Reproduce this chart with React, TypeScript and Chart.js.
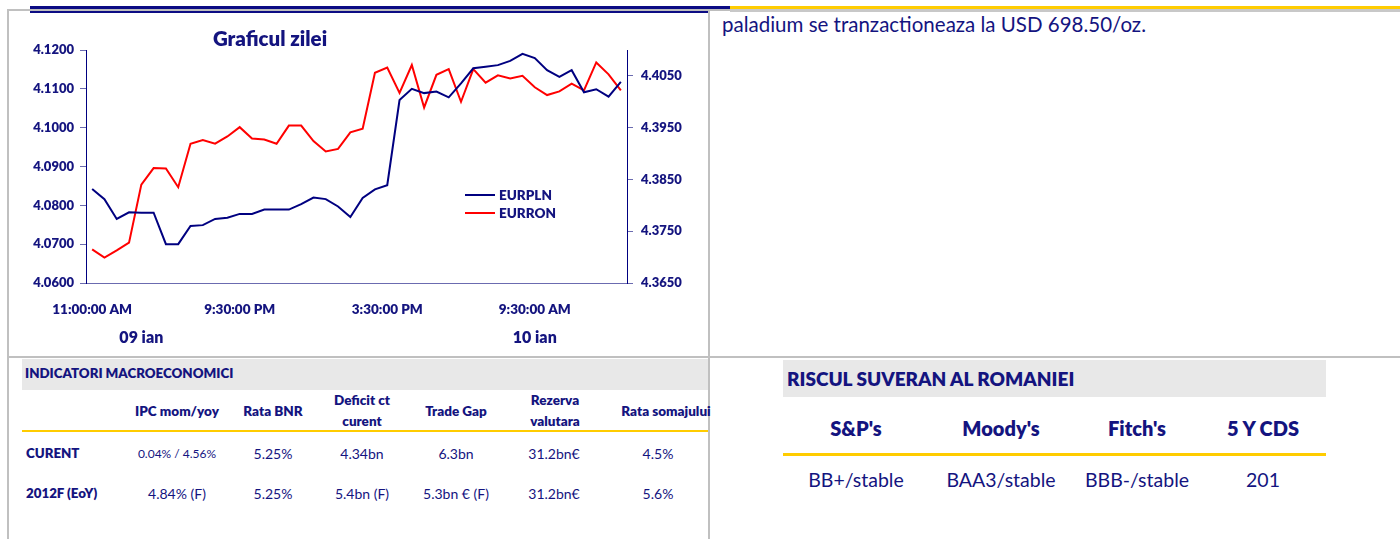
import React, { useEffect, useRef } from 'react';
import { Chart, registerables } from 'chart.js';

Chart.register(...registerables);

// ---- data ----
const EURPLN = [4.0842, 4.0816, 4.0765, 4.0782, 4.0781, 4.0781, 4.0700, 4.0700, 4.0747, 4.0749, 4.0765, 4.0768, 4.0778, 4.0778, 4.0789, 4.0789, 4.0789, 4.0803, 4.0820, 4.0816, 4.0797, 4.0770, 4.0819, 4.0841, 4.0852, 4.1071, 4.1100, 4.1089, 4.1093, 4.1078, 4.1114, 4.1153, 4.1157, 4.1161, 4.1172, 4.1190, 4.1179, 4.1148, 4.1131, 4.1148, 4.1091, 4.1099, 4.1080, 4.1118];
const EURRON = [4.3715, 4.3699, 4.3713, 4.3728, 4.3840, 4.3872, 4.3871, 4.3835, 4.3919, 4.3926, 4.3919, 4.3933, 4.3951, 4.3929, 4.3927, 4.3919, 4.3954, 4.3954, 4.3924, 4.3904, 4.3909, 4.3941, 4.3948, 4.4056, 4.4066, 4.4017, 4.4071, 4.3989, 4.4052, 4.4063, 4.4000, 4.4063, 4.4037, 4.4051, 4.4045, 4.4050, 4.4028, 4.4013, 4.4020, 4.4035, 4.4022, 4.4076, 4.4053, 4.4022];

const TIME_TICKS = ['11:00:00 AM', '9:30:00 PM', '3:30:00 PM', '9:30:00 AM'];
const TIME_TICK_INDEX = [0, 12, 24, 36];
const DAY_TICKS = ['09 ian', '10 ian'];
const DAY_TICK_INDEX = [4, 36];

const LEFT_TICKS = [4.06, 4.07, 4.08, 4.09, 4.10, 4.11, 4.12];
const RIGHT_TICKS = [4.365, 4.375, 4.385, 4.395, 4.405];
const LEFT_RANGE = [4.06, 4.12];
const RIGHT_RANGE = [4.365, 4.41];

const MACRO_HEADERS = [['IPC mom/yoy'], ['Rata BNR'], ['Deficit ct', 'curent'], ['Trade Gap'], ['Rezerva', 'valutara'], ['Rata somajului']];
const MACRO_ROWS = ['CURENT', '2012F (EoY)'];
const MACRO_CURENT = ['0.04% / 4.56%', '5.25%', '4.34bn', '6.3bn', '31.2bn€', '4.5%'];
const MACRO_2012F = ['4.84% (F)', '5.25%', '5.4bn (F)', '5.3bn € (F)', '31.2bn€', '5.6%'];

const RISK_HEADERS = ["S&P's", "Moody's", "Fitch's", '5 Y CDS'];
const RISK_VALUES = ['BB+/stable', 'BAA3/stable', 'BBB-/stable', '201'];

// ---- styles ----
const NAVY = '#14147f';
const LINE_NAVY = '#000080';
const TICK_COL = '#6b6bb0';
const FONT = 'Lato, "Open Sans", sans-serif';
const BOLD = 800;
const GRAY = '#c0c0c0';
const YELLOW = '#ffcc00';

const labelsFrom = (ticks: string[], idx: number[]) =>
  EURPLN.map((_, i) => {
    const k = idx.indexOf(i);
    return k >= 0 ? ticks[k] : '';
  });

const insideLegend = {
  id: 'insideLegend',
  afterDatasetsDraw(chart: any) {
    const { ctx, chartArea } = chart;
    const x0 = chartArea.left + 379;
    const y0 = chartArea.top + 145;
    chart.data.datasets.forEach((ds: any, i: number) => {
      const y = y0 + i * 18;
      ctx.save();
      ctx.strokeStyle = ds.borderColor;
      ctx.lineWidth = 2;
      ctx.beginPath();
      ctx.moveTo(x0, y);
      ctx.lineTo(x0 + 30, y);
      ctx.stroke();
      ctx.fillStyle = NAVY;
      ctx.font = `${BOLD} 13.5px ${FONT}`;
      ctx.textBaseline = 'middle';
      ctx.textAlign = 'left';
      ctx.fillText(ds.label, x0 + 34, y + 1);
      ctx.restore();
    });
  },
};

function FxChart() {
  const ref = useRef<HTMLCanvasElement | null>(null);
  useEffect(() => {
    if (!ref.current) return;
    const tickFont = { family: FONT, size: 13, weight: BOLD as any };
    const chart = new Chart(ref.current, {
      type: 'line',
      data: {
        labels: labelsFrom(TIME_TICKS, TIME_TICK_INDEX),
        datasets: [
          { label: 'EURPLN', data: EURPLN, borderColor: LINE_NAVY, borderWidth: 2, pointRadius: 0, tension: 0, yAxisID: 'y', xAxisID: 'x' },
          { label: 'EURRON', data: EURRON, borderColor: '#ff0000', borderWidth: 2, pointRadius: 0, tension: 0, yAxisID: 'y2', xAxisID: 'x' },
        ],
      },
      options: {
        responsive: false,
        animation: false,
        layout: { padding: { left: 10, right: 0, top: 50, bottom: 10 } },
        plugins: { legend: { display: false }, tooltip: { enabled: false }, title: { display: false } },
        scales: {
          x: {
            type: 'category',
            position: 'bottom',
            offset: true,
            grid: { display: false, drawTicks: false },
            border: { display: true, color: TICK_COL, width: 1 },
            ticks: { autoSkip: false, maxRotation: 0, minRotation: 0, padding: 19, color: NAVY, font: { family: FONT, size: 13.5, weight: BOLD as any } },
            afterFit: (s: any) => { s.height = 36; },
          },
          x2: {
            type: 'category',
            position: 'bottom',
            offset: true,
            labels: labelsFrom(DAY_TICKS, DAY_TICK_INDEX),
            grid: { display: false, drawTicks: false },
            border: { display: false },
            ticks: { autoSkip: false, maxRotation: 0, minRotation: 0, padding: 9, color: NAVY, font: { family: FONT, size: 16, weight: BOLD as any } },
            afterFit: (s: any) => { s.height = 28; },
          },
          y: {
            type: 'linear',
            position: 'left',
            min: LEFT_RANGE[0],
            max: LEFT_RANGE[1],
            afterBuildTicks: (s: any) => { s.ticks = LEFT_TICKS.map((v) => ({ value: v })); },
            ticks: { padding: 6, color: NAVY, font: tickFont, callback: (v: any) => Number(v).toFixed(4) },
            grid: { drawOnChartArea: false, drawTicks: true, tickLength: 6, color: TICK_COL },
            border: { color: LINE_NAVY, width: 1 },
            afterFit: (s: any) => { s.width = 76; },
          },
          y2: {
            type: 'linear',
            position: 'right',
            min: RIGHT_RANGE[0],
            max: RIGHT_RANGE[1],
            afterBuildTicks: (s: any) => { s.ticks = RIGHT_TICKS.map((v) => ({ value: v })); },
            ticks: { padding: 8, color: NAVY, font: tickFont, callback: (v: any) => Number(v).toFixed(4) },
            grid: { drawOnChartArea: false, drawTicks: true, tickLength: 6, color: TICK_COL },
            border: { color: LINE_NAVY, width: 1 },
            afterFit: (s: any) => { s.width = 83; },
          },
        },
      } as any,
      plugins: [insideLegend],
    });
    return () => chart.destroy();
  }, []);
  return <canvas ref={ref} width={710} height={357} style={{ position: 'absolute', left: 0, top: 0, width: 710, height: 357 }} />;
}

const abs = (l: number, t: number, w: number, h: number, bg: string): React.CSSProperties => ({
  position: 'absolute', left: l, top: t, width: w, height: h, background: bg,
});

function Centered({ cx, cy, text, size, bold, w = 180 }: { cx: number; cy: number; text: string; size: number; bold?: boolean; w?: number }) {
  return (
    <div style={{ position: 'absolute', left: cx - w / 2, top: cy - size * 0.6, width: w, textAlign: 'center', fontSize: size, lineHeight: `${size * 1.2}px`, fontWeight: bold ? BOLD : 400, color: NAVY, whiteSpace: 'nowrap' }}>
      {text}
    </div>
  );
}

export default function App() {
  const macroCx = [177, 273, 362, 456, 555, 666];
  const macroValCx = [177, 273, 362, 456, 554, 658];
  const riskCx = [856, 1001, 1137, 1263];
  return (
    <div style={{ position: 'absolute', left: 0, top: 0, width: 1400, height: 539, background: '#fff', overflow: 'hidden', fontFamily: FONT }}>
      {/* top rules */}
      <div style={abs(30, 6, 700, 3, '#0c0c84')} />
      <div style={abs(30, 9, 700, 2, '#bdbdbd')} />
      <div style={abs(30, 11, 678, 2, '#0c0c84')} />
      <div style={abs(730, 6, 670, 3, YELLOW)} />
      <div style={abs(730, 9, 670, 3, '#c8c8c8')} />
      {/* panel borders */}
      <div style={abs(7, 9, 23, 2, GRAY)} />
      <div style={abs(7, 9, 2, 530, GRAY)} />
      <div style={abs(708, 11, 2, 528, GRAY)} />
      <div style={abs(7, 356, 1393, 2, GRAY)} />

      <FxChart />
      <div style={{ position: 'absolute', left: 160, top: 26, width: 220, textAlign: 'center', fontSize: 20.5, lineHeight: '24px', fontWeight: BOLD, color: NAVY }}>Graficul zilei</div>

      {/* right text */}
      <div style={{ position: 'absolute', left: 722, top: 12, fontSize: 20.5, lineHeight: '25px', color: NAVY, whiteSpace: 'nowrap' }}>
        paladium se tranzactioneaza la USD 698.50/oz.
      </div>

      {/* macro table */}
      <div style={abs(22, 359, 686, 31, '#e8e8e8')} />
      <div style={{ position: 'absolute', left: 25, top: 365, fontSize: 13.3, lineHeight: '17px', fontWeight: BOLD, color: NAVY, whiteSpace: 'nowrap' }}>INDICATORI MACROECONOMICI</div>
      {MACRO_HEADERS.map((h, i) =>
        h.length === 1 ? (
          <Centered key={'h' + i} cx={macroCx[i]} cy={411} text={h[0]} size={13.5} bold />
        ) : (
          <React.Fragment key={'h' + i}>
            <Centered cx={macroCx[i]} cy={400} text={h[0]} size={13.5} bold />
            <Centered cx={macroCx[i]} cy={421} text={h[1]} size={13.5} bold />
          </React.Fragment>
        )
      )}
      <div style={abs(22, 430, 686, 2, YELLOW)} />
      {MACRO_ROWS.map((r, i) => (
        <div key={r} style={{ position: 'absolute', left: 26, top: (i === 0 ? 454 : 494) - 9, fontSize: 13.3, lineHeight: '17px', fontWeight: BOLD, color: NAVY, whiteSpace: 'nowrap' }}>{r}</div>
      ))}
      {MACRO_CURENT.map((v, i) => (
        <Centered key={'c' + i} cx={macroValCx[i]} cy={454} text={v} size={i === 0 ? 12 : 14} />
      ))}
      {MACRO_2012F.map((v, i) => (
        <Centered key={'f' + i} cx={macroValCx[i]} cy={494} text={v} size={14} />
      ))}

      {/* risk table */}
      <div style={abs(783, 360, 543, 37, '#e8e8e8')} />
      <div style={{ position: 'absolute', left: 787, top: 367, fontSize: 19, lineHeight: '23px', fontWeight: BOLD, color: NAVY, whiteSpace: 'nowrap' }}>RISCUL SUVERAN AL ROMANIEI</div>
      {RISK_HEADERS.map((h, i) => (
        <Centered key={'r' + i} cx={riskCx[i]} cy={428} text={h} size={20} bold />
      ))}
      <div style={abs(783, 453, 543, 3, YELLOW)} />
      {RISK_VALUES.map((v, i) => (
        <Centered key={'rv' + i} cx={riskCx[i]} cy={480} text={v} size={19.5} />
      ))}
    </div>
  );
}
